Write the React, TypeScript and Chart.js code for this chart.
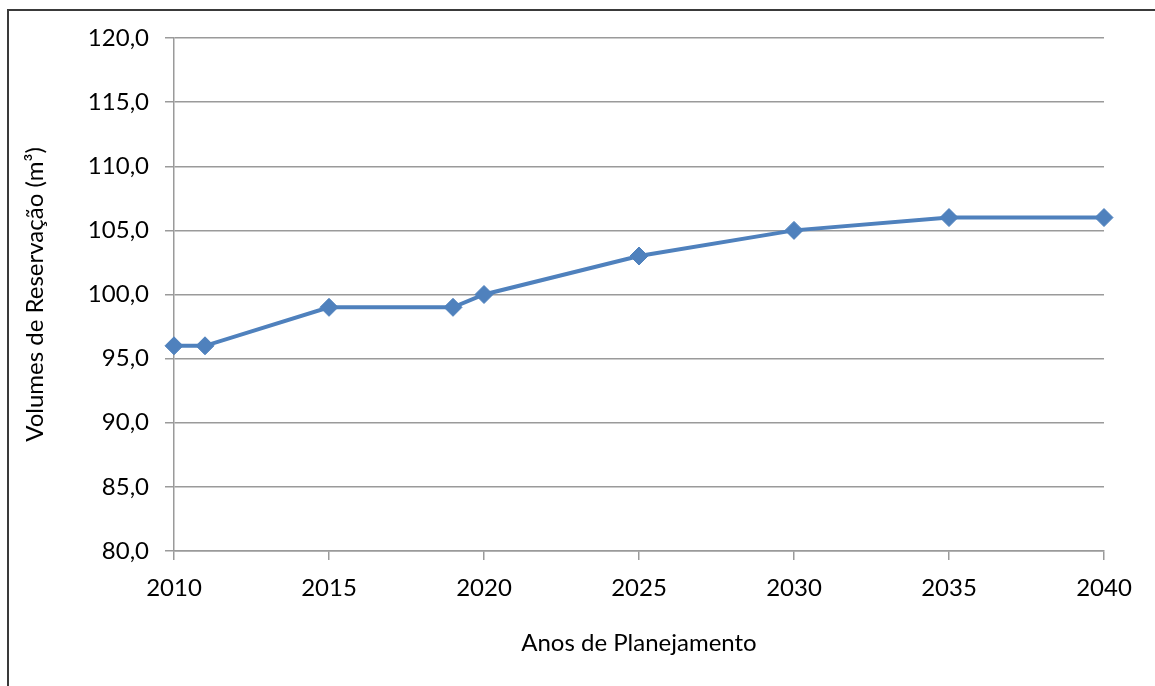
import React, { useEffect, useRef } from "react";
import { Chart, registerables } from "chart.js";

Chart.register(...registerables);

const years = [2010, 2011, 2015, 2019, 2020, 2025, 2030, 2035, 2040];
const volumes = [96, 96, 99, 99, 100, 103, 105, 106, 106];
const yTitle = "Volumes de Reservação (m³)";
const xTitle = "Anos de Planejamento";

export default function App() {
  const ref = useRef<HTMLCanvasElement | null>(null);

  useEffect(() => {
    if (!ref.current) return;
    const chart = new Chart(ref.current, {
      type: "line",
      data: {
        datasets: [
          {
            data: years.map((x, i) => ({ x, y: volumes[i] })),
            borderColor: "#4F81BD",
            backgroundColor: "#4F81BD",
            borderWidth: 4,
            pointStyle: "rectRot",
            pointRadius: 9,
            pointBorderWidth: 1,
            pointBackgroundColor: "#4F81BD",
            pointBorderColor: "#4F81BD",
            tension: 0,
            clip: false,
          } as any,
        ],
      },
      options: {
        animation: false,
        responsive: false,
        maintainAspectRatio: false,
        layout: { padding: { left: 0, right: 51, top: 38, bottom: 0 } },
        plugins: { legend: { display: false }, tooltip: { enabled: false } },
        scales: {
          x: {
            type: "linear",
            min: 2010,
            max: 2040,
            afterFit: (s: any) => {
              s.height = 135;
            },
            ticks: {
              stepSize: 5,
              color: "#000",
              padding: 14,
              maxRotation: 0,
              font: { family: "Lato", size: 24 },
              callback: (v: any) => String(v),
            },
            grid: {
              drawOnChartArea: false,
              drawTicks: true,
              tickLength: 9,
              color: "#9a9a9a",
              lineWidth: 1.5,
            },
            border: { display: true, color: "#9a9a9a", width: 1.5 },
            title: {
              display: true,
              text: xTitle,
              color: "#000",
              font: { family: "Lato", size: 24 },
              padding: { top: 0, bottom: 28 },
            },
          },
          y: {
            min: 80,
            max: 120,
            afterFit: (s: any) => {
              s.width = 174;
            },
            ticks: {
              stepSize: 5,
              color: "#000",
              padding: 16,
              font: { family: "Lato", size: 24 },
              callback: (v: any) => Number(v).toFixed(1).replace(".", ","),
            },
            grid: {
              drawOnChartArea: true,
              drawTicks: true,
              tickLength: 9,
              color: "#9a9a9a",
              lineWidth: 1.5,
            },
            border: { display: true, color: "#9a9a9a", width: 1.5 },
            title: {
              display: true,
              text: yTitle,
              color: "#000",
              font: { family: "Lato", size: 24 },
              padding: { top: 21, bottom: 0 },
            },
          },
        },
      },
    });
    return () => chart.destroy();
  }, []);

  return (
    <div
      style={{
        position: "fixed",
        left: 0,
        top: 0,
        width: 1155,
        height: 686,
        overflow: "hidden",
        background: "#fff",
      }}
    >
      <canvas ref={ref} width={1155} height={686} style={{ position: "absolute", left: 0, top: 0 }} />
      <div
        style={{
          position: "absolute",
          left: 7,
          top: 9,
          width: 1200,
          height: 800,
          borderTop: "2px solid #3a3a3a",
          borderLeft: "2px solid #3a3a3a",
          pointerEvents: "none",
        }}
      />
    </div>
  );
}
